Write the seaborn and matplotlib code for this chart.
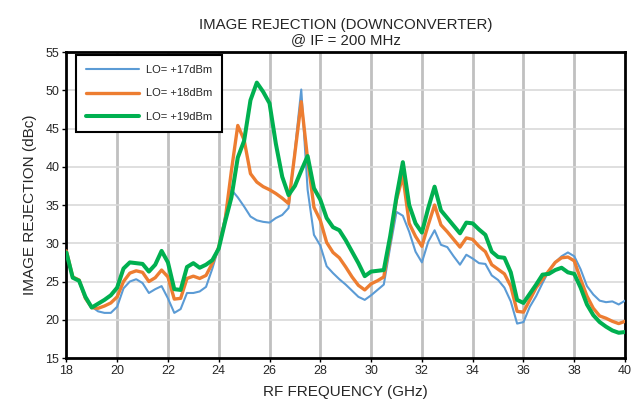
import numpy as np
import pandas as pd
import matplotlib
matplotlib.use("Agg")
import matplotlib.pyplot as plt
import seaborn as sns

# RF frequency grid (GHz), 0.25 GHz steps
freq = np.arange(18.0, 40.01, 0.25)

# Image rejection (dBc)
lo17 = [28.7, 25.5, 25.0, 23.0, 21.7, 21.1, 20.9, 20.9, 21.7, 24.1, 25.0, 25.3, 24.8, 23.5, 24.0, 24.4,
        22.8, 20.9, 21.4, 23.5, 23.5, 23.7, 24.3, 26.7, 29.5, 33.5, 37.0, 36.0, 34.8, 33.5, 33.0, 32.8,
        32.7, 33.3, 33.7, 34.6, 42.2, 50.1, 37.0, 31.1, 29.7, 27.0, 26.1, 25.3, 24.6, 23.8, 23.0, 22.6,
        23.2, 23.9, 24.6, 29.5, 34.1, 33.6, 31.5, 28.9, 27.5, 30.2, 31.7, 29.8, 29.5, 28.3, 27.2, 28.5,
        28.0, 27.4, 27.3, 25.8, 25.2, 24.2, 22.4, 19.5, 19.7, 21.7, 23.1, 24.8, 26.4, 27.5, 28.3, 28.8,
        28.3, 26.6, 24.4, 23.3, 22.5, 22.3, 22.4, 22.0, 22.5]
lo18 = [29.0, 25.6, 25.2, 22.8, 21.6, 21.5, 21.8, 22.2, 23.0, 25.0, 26.1, 26.4, 26.2, 25.0, 25.5, 26.5,
        25.6, 22.7, 22.8, 25.4, 25.7, 25.4, 25.8, 27.4, 29.5, 33.0, 39.5, 45.4, 43.5, 39.1, 38.0, 37.4,
        37.0, 36.5, 35.9, 35.2, 41.8, 48.5, 41.0, 34.7, 33.0, 30.1, 28.8, 28.1, 26.9, 25.6, 24.5, 23.9,
        24.7, 25.1, 25.6, 30.4, 35.7, 38.8, 32.6, 30.9, 29.6, 32.4, 35.0, 32.4, 31.5, 30.5, 29.5, 30.7,
        30.5, 29.6, 28.9, 27.2, 26.6, 26.0, 24.4, 21.1, 21.0, 22.6, 24.2, 25.3, 26.4, 27.5, 28.1, 28.2,
        27.7, 25.3, 23.1, 21.5, 20.5, 20.2, 19.8, 19.5, 19.8]
lo19 = [28.8, 25.5, 25.1, 23.0, 21.6, 22.1, 22.6, 23.2, 24.2, 26.7, 27.5, 27.4, 27.3, 26.3, 27.2, 29.0,
        27.5, 24.0, 23.9, 26.9, 27.4, 26.8, 27.2, 27.8, 29.3, 32.8, 36.0, 41.2, 43.4, 48.7, 51.0, 49.8,
        48.3, 43.0, 38.7, 36.3, 37.5, 39.5, 41.4, 37.2, 35.7, 33.3, 32.1, 31.7, 30.4, 28.9, 27.4, 25.7,
        26.3, 26.4, 26.5, 30.9, 36.1, 40.6, 35.0, 32.6, 31.4, 34.6, 37.4, 34.3, 33.3, 32.3, 31.3, 32.7,
        32.6, 31.8, 31.1, 28.9, 28.2, 28.1, 26.2, 22.6, 22.2, 23.4, 24.6, 25.9, 26.0, 26.5, 26.8, 26.2,
        26.0, 24.2, 22.0, 20.6, 19.7, 19.1, 18.6, 18.3, 18.4]

series_names = ["LO= +17dBm", "LO= +18dBm", "LO= +19dBm"]
series_values = [lo17, lo18, lo19]
colors = ["#5B9BD5", "#ED7D31", "#00B050"]
widths = [1.5, 2.4, 2.9]

sns.set_theme(style="white")
plt.rcParams["font.family"] = ["Liberation Sans", "DejaVu Sans"]

fig = plt.figure(figsize=(6.32, 4.08), dpi=100)
ax = fig.add_axes([0.105, 0.1225, 0.884, 0.75])

# grid first so the curves sit on top
for x in range(20, 40, 2):
    ax.axvline(x, color="#c0c0c0", lw=2.0, zorder=0)
for y in range(20, 55, 5):
    ax.axhline(y, color="#d9d9d9", lw=1.2, zorder=0)

for name, vals, c, w in zip(series_names, series_values, colors, widths):
    df = pd.DataFrame({"freq": freq, "ir": vals})
    sns.lineplot(data=df, x="freq", y="ir", color=c, linewidth=w, label=name, ax=ax, zorder=3)

ax.set_xlim(18, 40)
ax.set_ylim(15, 55)
ax.set_xticks(range(18, 41, 2))
ax.set_yticks(range(15, 56, 5))
ax.tick_params(axis="both", labelsize=9, direction="out", length=3, width=1, color="black",
               bottom=True, left=True, pad=2)

for s in ax.spines.values():
    s.set_color("black")
    s.set_linewidth(2)

ax.set_xlabel("RF FREQUENCY (GHz)", fontsize=11, labelpad=6)
ax.set_ylabel("IMAGE REJECTION (dBc)", fontsize=11, labelpad=6)
ax.set_title("IMAGE REJECTION (DOWNCONVERTER)\n@ IF = 200 MHz", fontsize=10.8, pad=6, linespacing=1.1)

leg = ax.legend(loc="upper left", bbox_to_anchor=(0.017, 0.99), borderaxespad=0, fontsize=8,
                frameon=True, fancybox=False, handlelength=4.8, labelspacing=1.2,
                borderpad=0.9, handletextpad=0.6)
leg.get_frame().set_edgecolor("black")
leg.get_frame().set_linewidth(1.5)
leg.get_frame().set_facecolor("white")
leg.get_frame().set_alpha(1)

fig.savefig("out.png", dpi=100)
